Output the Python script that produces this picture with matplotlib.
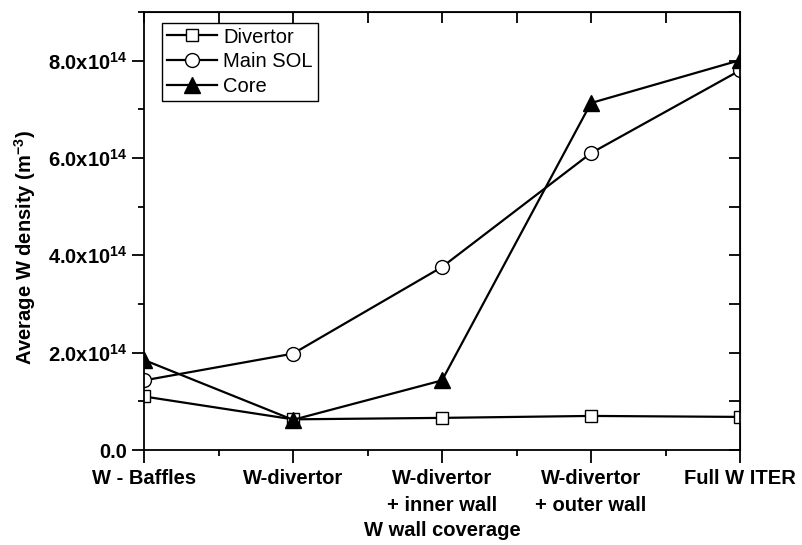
import matplotlib
matplotlib.use("Agg")
import matplotlib.pyplot as plt
from matplotlib.ticker import MultipleLocator, FuncFormatter

plt.rcParams["font.family"] = ["Liberation Sans", "DejaVu Sans"]
plt.rcParams["mathtext.fontset"] = "custom"
plt.rcParams["mathtext.bf"] = "Liberation Sans:bold"
plt.rcParams["mathtext.rm"] = "Liberation Sans:bold"
plt.rcParams["mathtext.default"] = "bf"

# ----------------------------
# Data
# ----------------------------
categories = ["W - Baffles", "W-divertor", "W-divertor\n+ inner wall",
              "W-divertor\n+ outer wall", "Full W ITER"]
divertor = [1.10e14, 0.63e14, 0.66e14, 0.70e14, 0.68e14]
main_sol = [1.43e14, 1.98e14, 3.76e14, 6.10e14, 7.80e14]
core = [1.85e14, 0.62e14, 1.43e14, 7.13e14, 8.01e14]

x = list(range(len(categories)))
FS = 14.5

fig = plt.figure(figsize=(8.02, 5.45), dpi=100)
ax = fig.add_axes([144 / 802, 1 - 450 / 545, (740 - 144) / 802, (450 - 12) / 545])

lw = 1.6
ax.plot(x, divertor, "-", color="black", lw=lw, marker="s", ms=9,
        mfc="white", mec="black", mew=1, label="Divertor")
ax.plot(x, main_sol, "-", color="black", lw=lw, marker="o", ms=10,
        mfc="white", mec="black", mew=1, label="Main SOL")
ax.plot(x, core, "-", color="black", lw=lw, marker="^", ms=11,
        mfc="black", mec="black", label="Core")

ax.set_xlim(0, 4)
ax.set_ylim(0, 9e14)

ax.set_xticks(x)
ax.set_xticklabels(categories, fontsize=FS, fontweight="bold", linespacing=1.5)
ax.xaxis.set_minor_locator(MultipleLocator(0.5))

ax.yaxis.set_major_locator(MultipleLocator(2e14))
ax.yaxis.set_minor_locator(MultipleLocator(1e14))


def sci_fmt(v, pos):
    if v == 0:
        return "0.0"
    m = v / 1e14
    return r"$%.1fx10^{14}$" % m


ax.yaxis.set_major_formatter(FuncFormatter(sci_fmt))
for lab in ax.get_yticklabels():
    lab.set_fontweight("bold")

ax.tick_params(axis="both", which="major", direction="out", length=9, width=1.3, pad=3)
ax.tick_params(axis="x", which="major", pad=5)
ax.tick_params(axis="both", which="minor", direction="out", length=4, width=1.3)
ax.tick_params(axis="y", labelsize=FS)

for s in ax.spines.values():
    s.set_linewidth(1.3)

# mirrored ticks pointing inwards on top and right
top = ax.secondary_xaxis("top")
top.set_xticks([0, 0.5, 1, 1.5, 2, 2.5, 3, 3.5, 4])
top.tick_params(direction="in", length=8, width=1.3, labeltop=False)
right = ax.secondary_yaxis("right")
right.set_yticks([i * 1e14 for i in range(10)])
right.tick_params(direction="in", length=8, width=1.3, labelright=False)

ax.set_xlabel("W wall coverage", fontsize=FS, fontweight="bold")
ax.xaxis.label.set_va("center")
ax.xaxis.set_label_coords(0.5, (450 - 530) / 438)
ax.set_ylabel(r"Average W density (m$^{-3}$)", fontsize=FS, fontweight="bold")
ax.yaxis.label.set_va("center")
ax.yaxis.set_label_coords((25 - 144) / 596, (450 - 248) / 438)

leg = ax.legend(loc="upper left", bbox_to_anchor=(0.03, 0.976), fontsize=14.5,
                frameon=True, fancybox=False, edgecolor="black", framealpha=1,
                handlelength=2.5, labelspacing=0.28, borderpad=0.25,
                handletextpad=0.3, borderaxespad=0)
leg.get_frame().set_linewidth(1.0)

plt.savefig("out.png", dpi=100)
plt.close()
